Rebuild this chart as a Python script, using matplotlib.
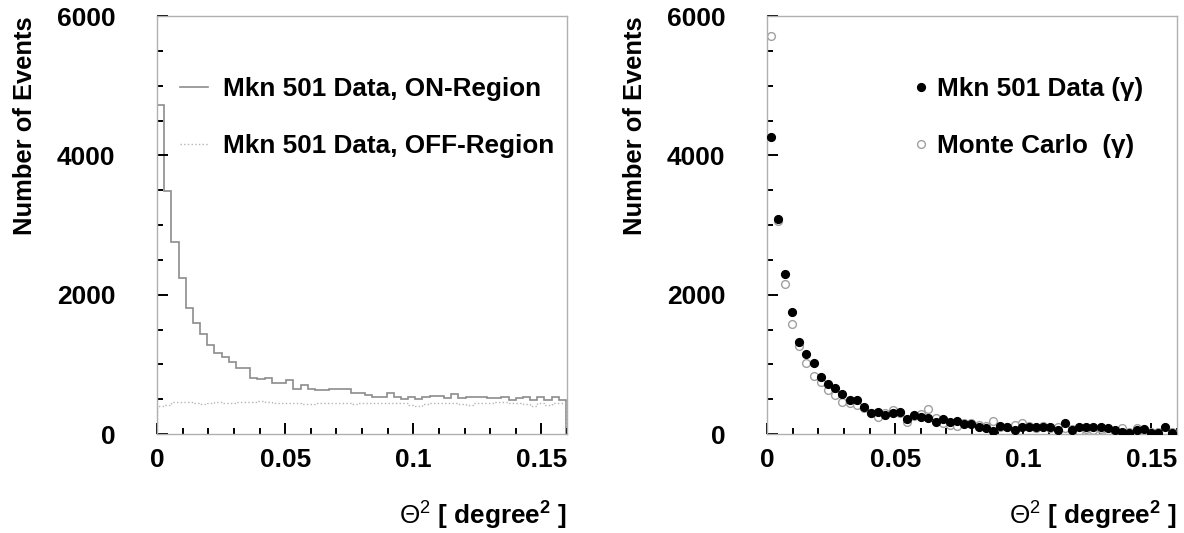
import numpy as np
import matplotlib
matplotlib.use("Agg")
import matplotlib.pyplot as plt
from matplotlib.ticker import MultipleLocator, FixedLocator

plt.rcParams['font.family'] = ['Liberation Sans', 'DejaVu Sans']
plt.rcParams['mathtext.fontset'] = 'custom'
plt.rcParams['mathtext.rm'] = 'Liberation Sans'
plt.rcParams['mathtext.bf'] = 'Liberation Sans:bold'
plt.rcParams['mathtext.it'] = 'Liberation Sans:italic'

# ---------------- data ----------------
bin_width = 0.0028
on_region = [4723, 3493, 2761, 2244, 1804, 1589, 1436, 1278, 1168, 1110,
             1038, 943, 943, 799, 785, 799, 737, 737, 775, 641,
             703, 641, 632, 632, 641, 641, 641, 584, 593, 560,
             536, 526, 584, 536, 498, 536, 498, 536, 545, 545,
             512, 569, 512, 536, 526, 526, 512, 512, 526, 488,
             512, 526, 488, 536, 488, 536, 488]
off_region = [405, 420, 455, 465, 462, 445, 430, 448, 455, 450,
              452, 460, 455, 462, 472, 455, 448, 450, 445, 440,
              430, 428, 440, 448, 445, 450, 440, 425, 445, 450,
              452, 448, 450, 445, 440, 420, 405, 430, 440, 442,
              445, 440, 425, 415, 440, 445, 440, 455, 458, 452,
              445, 430, 405, 445, 420, 440, 450]
data_gamma = [4268, 3086, 2297, 1756, 1325, 1144, 1014, 813, 713, 665,
              569, 488, 488, 383, 297, 321, 273, 297, 321, 211,
              273, 239, 225, 177, 211, 177, 191, 144, 150, 105,
              81, 48, 115, 105, 57, 105, 105, 105, 105, 105,
              60, 153, 60, 105, 105, 105, 105, 81, 57, 30,
              10, 57, 67, 10, 10, 96, 10]
mc_gamma = [5713, 3060, 2153, 1579, 1263, 1014, 837, 751, 632, 560,
            464, 450, 416, 368, 297, 249, 306, 345, 297, 177,
            258, 287, 354, 225, 153, 129, 115, 153, 153, 129,
            115, 191, 105, 105, 129, 153, 115, 81, 115, 81,
            105, 81, 67, 48, 67, 57, 67, 48, 48, 81,
            33, 81, 48, 33, 29, 33, 33]

x_ticks = [0, 0.05, 0.1, 0.15]
x_tick_labels = ['0', '0.05', '0.1', '0.15']
y_ticks = [0, 2000, 4000, 6000]
y_tick_labels = ['0', '2000', '4000', '6000']

edges = np.arange(len(on_region) + 1) * bin_width
centers = 0.5 * (edges[:-1] + edges[1:])

# ---------------- figure ----------------
fig = plt.figure(figsize=(11.84, 5.33), dpi=100)
ax1 = fig.add_axes([0.1326, 0.1857, 0.3463, 0.7842])
ax2 = fig.add_axes([0.6478, 0.1857, 0.3463, 0.7842])

TICK_FS = 19
LEG_FS = 18.8

def style(ax):
    ax.set_xlim(0, 0.16)
    ax.set_ylim(0, 6000)
    for s in ax.spines.values():
        s.set_color('#b0b0b0')
        s.set_linewidth(1.0)
    ax.xaxis.set_major_locator(FixedLocator(x_ticks))
    ax.xaxis.set_minor_locator(MultipleLocator(0.01))
    ax.yaxis.set_major_locator(FixedLocator(y_ticks))
    ax.yaxis.set_minor_locator(MultipleLocator(500))
    ax.set_xticklabels(x_tick_labels)
    ax.set_yticklabels(y_tick_labels)
    ax.tick_params(which='both', direction='in', color='black', width=1.4,
                   top=False, right=False)
    ax.tick_params(which='major', length=8)
    ax.tick_params(which='minor', length=4)
    ax.tick_params(axis='y', which='major', pad=30)
    ax.tick_params(axis='x', which='major', pad=10)
    for lab in ax.get_xticklabels() + ax.get_yticklabels():
        lab.set_fontsize(TICK_FS)
        lab.set_fontweight('bold')
    ax.set_ylabel('Number of Events', fontsize=18.4, fontweight='bold',
                  loc='top', labelpad=14)
    ax.set_xlabel(r'$\Theta^{2}$ [ degree$^{\mathbf{2}}$ ]', fontsize=18.8,
                  fontweight='bold', loc='right', labelpad=20)

# Left panel
ax1.stairs(on_region, edges, color='#8c8c8c', linewidth=1.2,
           label='Mkn 501 Data, ON-Region')
ax1.stairs(off_region, edges, color='#b5b5b5', linewidth=1.0, linestyle=':',
           label='Mkn 501 Data, OFF-Region')
style(ax1)
ax1.legend(loc='upper left', bbox_to_anchor=(0.011, 0.897), frameon=False,
           prop={'size': LEG_FS, 'weight': 'bold'}, handlelength=1.07,
           handletextpad=0.57, labelspacing=1.25, borderaxespad=0.3)

# Right panel
ax2.plot(centers, mc_gamma, linestyle='none', marker='o', markersize=5.6,
         markerfacecolor='white', markeredgecolor='#a0a0a0', markeredgewidth=1.0,
         label='Monte Carlo  (\u03b3)', zorder=2)
ax2.plot(centers, data_gamma, linestyle='none', marker='o', markersize=5.6,
         markerfacecolor='black', markeredgecolor='black',
         label='Mkn 501 Data (\u03b3)', zorder=3)
style(ax2)
h, l = ax2.get_legend_handles_labels()
ax2.legend([h[1], h[0]], [l[1], l[0]], loc='upper left',
           bbox_to_anchor=(0.312, 0.897), frameon=False,
           prop={'size': LEG_FS, 'weight': 'bold'}, handlelength=0.6,
           handletextpad=0.3, labelspacing=1.25, borderaxespad=0.3,
           markerscale=1.0)

fig.savefig('out.png', dpi=100)
